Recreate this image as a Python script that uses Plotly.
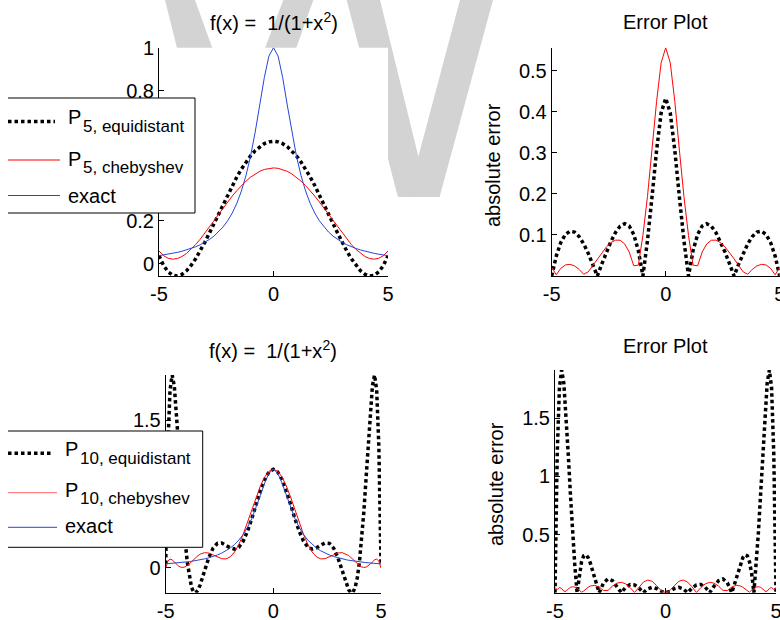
import plotly.graph_objects as go

W, H = 780, 620

# ---------------- data ----------------
x_top = [-5.0, -4.8, -4.6, -4.4, -4.2, -4.0, -3.8, -3.6, -3.4, -3.2, -3.0, -2.8, -2.6, -2.4, -2.2,
         -2.0, -1.8, -1.6, -1.4, -1.2, -1.0, -0.8, -0.6, -0.4, -0.2, 0.0,
         0.2, 0.4, 0.6, 0.8, 1.0, 1.2, 1.4, 1.6, 1.8, 2.0, 2.2, 2.4, 2.6, 2.8, 3.0,
         3.2, 3.4, 3.6, 3.8, 4.0, 4.2, 4.4, 4.6, 4.8, 5.0]

exact_top = [0.0385, 0.0416, 0.0451, 0.0491, 0.0536, 0.0588, 0.0648, 0.0716, 0.0796, 0.0890, 0.1000,
             0.1131, 0.1289, 0.1479, 0.1712, 0.2000, 0.2358, 0.2809, 0.3378, 0.4098, 0.5000, 0.6098,
             0.7353, 0.8621, 0.9615, 1.0000,
             0.9615, 0.8621, 0.7353, 0.6098, 0.5000, 0.4098, 0.3378, 0.2809, 0.2358, 0.2000, 0.1712,
             0.1479, 0.1289, 0.1131, 0.1000, 0.0890, 0.0796, 0.0716, 0.0648, 0.0588, 0.0536, 0.0491,
             0.0451, 0.0416, 0.0385]

p5_equi = [0.0385, -0.0069, -0.0366, -0.0522, -0.0555, -0.0481, -0.0314, -0.0069, 0.0240, 0.0600, 0.1000,
           0.1427, 0.1872, 0.2323, 0.2773, 0.3212, 0.3632, 0.4027, 0.4390, 0.4716, 0.5000, 0.5238,
           0.5426, 0.5563, 0.5645, 0.5673,
           0.5645, 0.5563, 0.5426, 0.5238, 0.5000, 0.4716, 0.4390, 0.4027, 0.3632, 0.3212, 0.2773,
           0.2323, 0.1872, 0.1427, 0.1000, 0.0600, 0.0240, -0.0069, -0.0314, -0.0481, -0.0555, -0.0522,
           -0.0366, -0.0069, 0.0385]

p5_cheb = [0.0599, 0.0386, 0.0264, 0.0222, 0.0252, 0.0342, 0.0485, 0.0673, 0.0895, 0.1146, 0.1418,
           0.1704, 0.1998, 0.2294, 0.2586, 0.2870, 0.3140, 0.3393, 0.3626, 0.3833, 0.4014, 0.4165,
           0.4285, 0.4371, 0.4423, 0.4441,
           0.4423, 0.4371, 0.4285, 0.4165, 0.4014, 0.3833, 0.3626, 0.3393, 0.3140, 0.2870, 0.2586,
           0.2294, 0.1998, 0.1704, 0.1418, 0.1146, 0.0895, 0.0673, 0.0485, 0.0342, 0.0252, 0.0222,
           0.0264, 0.0386, 0.0599]

err5_equi = [0.0, 0.0485, 0.0817, 0.1013, 0.1091, 0.1069, 0.0962, 0.0785, 0.0556, 0.0290, 0.0,
             0.0296, 0.0583, 0.0844, 0.1061, 0.1212, 0.1274, 0.1218, 0.1012, 0.0618, 0.0, 0.0860,
             0.1927, 0.3058, 0.3970, 0.4327,
             0.3970, 0.3058, 0.1927, 0.0860, 0.0, 0.0618, 0.1012, 0.1218, 0.1274, 0.1212, 0.1061,
             0.0844, 0.0583, 0.0296, 0.0, 0.0290, 0.0556, 0.0785, 0.0962, 0.1069, 0.1091, 0.1013,
             0.0817, 0.0485, 0.0]

err5_cheb = [0.0214, 0.0030, 0.0187, 0.0269, 0.0284, 0.0246, 0.0163, 0.0044, 0.0099, 0.0256, 0.0418,
             0.0573, 0.0709, 0.0815, 0.0874, 0.0870, 0.0782, 0.0584, 0.0248, 0.0265, 0.0986, 0.1933,
             0.3068, 0.4250, 0.5192, 0.5559,
             0.5192, 0.4250, 0.3068, 0.1933, 0.0986, 0.0265, 0.0248, 0.0584, 0.0782, 0.0870, 0.0874,
             0.0815, 0.0709, 0.0573, 0.0418, 0.0256, 0.0099, 0.0044, 0.0163, 0.0246, 0.0284, 0.0269,
             0.0187, 0.0030, 0.0214]

x_bot = [-5.0, -4.9, -4.8, -4.7, -4.6, -4.5, -4.4, -4.3, -4.2, -4.1, -4.0, -3.9, -3.8, -3.7, -3.6, -3.5,
         -3.4, -3.2, -3.0, -2.8, -2.6, -2.4, -2.2, -2.0, -1.8, -1.6, -1.4, -1.2, -1.0, -0.8, -0.6, -0.4,
         -0.2, 0.0,
         0.2, 0.4, 0.6, 0.8, 1.0, 1.2, 1.4, 1.6, 1.8, 2.0, 2.2, 2.4, 2.6, 2.8, 3.0, 3.2, 3.4,
         3.5, 3.6, 3.7, 3.8, 3.9, 4.0, 4.1, 4.2, 4.3, 4.4, 4.5, 4.6, 4.7, 4.8, 4.9, 5.0]

exact_bot = [0.0385, 0.0400, 0.0416, 0.0433, 0.0451, 0.0471, 0.0491, 0.0513, 0.0536, 0.0561, 0.0588,
             0.0617, 0.0648, 0.0681, 0.0716, 0.0755, 0.0796, 0.0890, 0.1000, 0.1131, 0.1289, 0.1479,
             0.1712, 0.2000, 0.2358, 0.2809, 0.3378, 0.4098, 0.5000, 0.6098, 0.7353, 0.8621, 0.9615,
             1.0000,
             0.9615, 0.8621, 0.7353, 0.6098, 0.5000, 0.4098, 0.3378, 0.2809, 0.2358, 0.2000, 0.1712,
             0.1479, 0.1289, 0.1131, 0.1000, 0.0890, 0.0796, 0.0755, 0.0716, 0.0681, 0.0648, 0.0617,
             0.0588, 0.0561, 0.0536, 0.0513, 0.0491, 0.0471, 0.0451, 0.0433, 0.0416, 0.0400, 0.0385]

p10_equi = [0.0385, 1.2303, 1.8044, 1.9589, 1.8458, 1.5788, 1.2402, 0.8881, 0.5604, 0.2802, 0.0588,
            -0.1007, -0.2013, -0.2496, -0.2546, -0.2262, -0.1744, -0.0363, 0.1000, 0.1987, 0.2472,
            0.2510, 0.2278, 0.2000, 0.1887, 0.2099, 0.2710, 0.3708, 0.5000, 0.6432, 0.7818, 0.8971,
            0.9733, 1.0000,
            0.9733, 0.8971, 0.7818, 0.6432, 0.5000, 0.3708, 0.2710, 0.2099, 0.1887, 0.2000, 0.2278,
            0.2510, 0.2472, 0.1987, 0.1000, -0.0363, -0.1744, -0.2262, -0.2546, -0.2496, -0.2013,
            -0.1007, 0.0588, 0.2802, 0.5604, 0.8881, 1.2402, 1.5788, 1.8458, 1.9589, 1.8044, 1.2303,
            0.0385]

p10_cheb = [-0.0053, 0.0664, 0.0871, 0.0791, 0.0583, 0.0352, 0.0162, 0.0049, 0.0023, 0.0082, 0.0213,
            0.0395, 0.0608, 0.0829, 0.1039, 0.1224, 0.1370, 0.1524, 0.1488, 0.1313, 0.1087, 0.0913,
            0.0892, 0.1105, 0.1595, 0.2372, 0.3399, 0.4611, 0.5911, 0.7187, 0.8327, 0.9227, 0.9802,
            1.0000,
            0.9802, 0.9227, 0.8327, 0.7187, 0.5911, 0.4611, 0.3399, 0.2372, 0.1595, 0.1105, 0.0892,
            0.0913, 0.1087, 0.1313, 0.1488, 0.1524, 0.1370, 0.1224, 0.1039, 0.0829, 0.0608, 0.0395,
            0.0213, 0.0082, 0.0023, 0.0049, 0.0162, 0.0352, 0.0583, 0.0791, 0.0871, 0.0664, -0.0053]

err10_equi = [0.0, 1.1903, 1.7628, 1.9156, 1.8007, 1.5317, 1.1911, 0.8368, 0.5068, 0.2241, 0.0,
              0.1624, 0.2661, 0.3177, 0.3262, 0.3017, 0.2540, 0.1253, 0.0, 0.0856, 0.1183, 0.1031,
              0.0566, 0.0, 0.0471, 0.0710, 0.0668, 0.0390, 0.0, 0.0334, 0.0465, 0.0350, 0.0118,
              0.0,
              0.0118, 0.0350, 0.0465, 0.0334, 0.0, 0.0390, 0.0668, 0.0710, 0.0471, 0.0, 0.0566,
              0.1031, 0.1183, 0.0856, 0.0, 0.1253, 0.2540, 0.3017, 0.3262, 0.3177, 0.2661, 0.1624,
              0.0, 0.2241, 0.5068, 0.8368, 1.1911, 1.5317, 1.8007, 1.9156, 1.7628, 1.1903, 0.0]

err10_cheb = [0.0438, 0.0264, 0.0455, 0.0358, 0.0132, 0.0119, 0.0329, 0.0464, 0.0513, 0.0479, 0.0375,
              0.0222, 0.0040, 0.0148, 0.0323, 0.0469, 0.0574, 0.0634, 0.0488, 0.0182, 0.0202, 0.0566,
              0.0820, 0.0895, 0.0763, 0.0437, 0.0021, 0.0513, 0.0911, 0.1089, 0.0974, 0.0606, 0.0187,
              0.0,
              0.0187, 0.0606, 0.0974, 0.1089, 0.0911, 0.0513, 0.0021, 0.0437, 0.0763, 0.0895, 0.0820,
              0.0566, 0.0202, 0.0182, 0.0488, 0.0634, 0.0574, 0.0469, 0.0323, 0.0148, 0.0040, 0.0222,
              0.0375, 0.0479, 0.0513, 0.0464, 0.0329, 0.0119, 0.0132, 0.0358, 0.0455, 0.0264, 0.0438]

x_tickvals = [-5, 0, 5]
x_ticktext = ["-5", "0", "5"]
y_ticks_tl = [0, 0.2, 0.4, 0.6, 0.8, 1]
y_ticks_tr = [0.1, 0.2, 0.3, 0.4, 0.5]
y_ticks_bl = [0, 0.5, 1, 1.5]
y_ticks_br = [0.5, 1, 1.5]

title_f = "f(x) =  1/(1+x<sup>2</sup>)"
title_err = "Error Plot"
ylabel_err = "absolute error"
legend_top = [("P", "5, equidistant"), ("P", "5, chebyshev"), ("exact", None)]
legend_bot = [("P", "10, equidistant"), ("P", "10, chebyshev"), ("exact", None)]

# ---------------- styling / layout ----------------
FONT = "Liberation Sans, Arial, Helvetica, sans-serif"
DOT = dict(color="black", width=3.5, dash="3.5px,3px")
RED = dict(color="#ff0000", width=1)
BLUE = dict(color="#2446d8", width=1)


def px(x):
    return x / W


def py(y):
    return 1 - y / H


# axes boxes in pixels: (left, right, top, bottom)
boxes = {
    "tl": (159, 388, 47.7, 276),
    "tr": (551.7, 779.7, 47.7, 276),
    "bl": (165.7, 381, 375, 592.7),
    "br": (555, 776, 370, 592.7),
}
names = ["tl", "tr", "bl", "br"]

fig = go.Figure()

series = [
    ("tl", x_top, p5_equi, DOT), ("tl", x_top, p5_cheb, RED), ("tl", x_top, exact_top, BLUE),
    ("tr", x_top, err5_equi, DOT), ("tr", x_top, err5_cheb, RED),
    ("bl", x_bot, p10_equi, DOT), ("bl", x_bot, p10_cheb, RED), ("bl", x_bot, exact_bot, BLUE),
    ("br", x_bot, err10_equi, DOT), ("br", x_bot, err10_cheb, RED),
]
for key, xs, ys, ln in series:
    i = names.index(key) + 1
    suffix = "" if i == 1 else str(i)
    fig.add_trace(go.Scatter(x=xs, y=ys, mode="lines", line=ln,
                             xaxis="x" + suffix, yaxis="y" + suffix,
                             showlegend=False, hoverinfo="skip"))

yranges = {"tl": [-0.0556, 1.0], "tr": [0.0, 0.5559], "bl": [-0.2546, 1.9589], "br": [0.0, 1.9156]}
yticks = {"tl": y_ticks_tl, "tr": y_ticks_tr, "bl": y_ticks_bl, "br": y_ticks_br}

axis_common = dict(showline=True, linecolor="black", linewidth=1, ticks="inside", ticklen=5,
                   tickcolor="black", tickwidth=1, showgrid=False, zeroline=False, automargin=False,
                   ticklabeloverflow="allow",
                   tickfont=dict(family=FONT, size=20, color="black"))

layout = dict(width=W, height=H, margin=dict(l=0, r=0, t=0, b=0, pad=0, autoexpand=False),
              paper_bgcolor="white", plot_bgcolor="white", showlegend=False,
              font=dict(family=FONT, size=20, color="black"))

for i, key in enumerate(names, start=1):
    l, r, t, b = boxes[key]
    suffix = "" if i == 1 else str(i)
    layout["xaxis" + suffix] = dict(domain=[px(l), px(r)], range=[-5, 5], tickvals=x_tickvals,
                                    ticktext=x_ticktext, anchor="y" + suffix, **axis_common)
    layout["yaxis" + suffix] = dict(domain=[py(b), py(t)], range=yranges[key],
                                    tickvals=yticks[key], anchor="x" + suffix, **axis_common)

fig.update_layout(**layout)

shapes = []
# watermark "W" strokes (pixel geometry), drawn below the axes backgrounds
WM = "#d3d3d3"
strokes = [
    [(160, -20), (187.8, -20), (265.9, 197), (214.3, 197)],
    [(290.9, -20), (320.4, -20), (243.4, 197), (208.4, 197)],
    [(341.5, -20), (375.1, -20), (428.3, 197), (397.9, 197)],
    [(465.3, -20), (498.4, -20), (439.6, 197), (407.6, 197)],
]
for pts in strokes:
    path = "M " + " L ".join(f"{px(a):.5f},{py(b):.5f}" for a, b in pts) + " Z"
    shapes.append(dict(type="path", path=path, xref="paper", yref="paper",
                       fillcolor=WM, line=dict(width=0), layer="below"))
# opaque white axes backgrounds on top of the watermark
for key in names:
    l, r, t, b = boxes[key]
    shapes.append(dict(type="rect", xref="paper", yref="paper", x0=px(l), x1=px(r),
                       y0=py(b), y1=py(t), fillcolor="white", line=dict(width=0), layer="below"))


def legend_box(x0, x1, y0, y1, samples):
    out = [dict(type="rect", xref="paper", yref="paper", x0=px(x0), x1=px(x1), y0=py(y1), y1=py(y0),
                fillcolor="white", line=dict(width=0), layer="above")]
    for (a, b, c, d) in [(x0, y0, x1, y0), (x1, y0, x1, y1), (x0, y1, x1, y1)]:
        out.append(dict(type="line", xref="paper", yref="paper", x0=px(a), y0=py(b), x1=px(c), y1=py(d),
                        line=dict(color="black", width=1), layer="above"))
    for (xa, xb, yy, ln) in samples:
        out.append(dict(type="line", xref="paper", yref="paper", x0=px(xa), x1=px(xb), y0=py(yy), y1=py(yy),
                        line=ln, layer="above"))
    return out


shapes += legend_box(8, 195, 98, 213, [(8, 55, 121.5, DOT), (8, 60, 160, RED), (8, 60, 195.5, BLUE)])
shapes += legend_box(8, 202.7, 431, 547.3, [(8, 53, 453.3, DOT), (8, 57, 492.7, dict(color="#ff0000", width=0.6)),
                                             (8, 57, 527.3, BLUE)])
fig.update_layout(shapes=shapes)

ann = []


def text(x, y, s, size=20, xanchor="center", yanchor="middle", angle=0):
    ann.append(dict(x=px(x), y=py(y), xref="paper", yref="paper", text=s, showarrow=False,
                    xanchor=xanchor, yanchor=yanchor, textangle=angle,
                    font=dict(family=FONT, size=size, color="black")))


# subplot titles
text(273.5, 21, title_f)
text(665.7, 22.5, title_err)
text(273.3, 349.5, title_f)
text(665.7, 345.5, title_err)
# y labels
text(493, 165, ylabel_err, angle=-90)
text(496, 484, ylabel_err, angle=-90)

# legends
top_rows = [(116.7, 126.6), (158.8, 167.2), (195.5, None)]
for (main, sub), (ym, ys) in zip(legend_top, top_rows):
    text(66, ym, main, xanchor="left")
    if sub:
        text(80.5, ys, sub, size=17, xanchor="left")
bot_rows = [(448.8, 458.9), (489.5, 498.9), (526.1, None)]
for (main, sub), (ym, ys) in zip(legend_bot, bot_rows):
    text(62.5, ym, main, xanchor="left")
    if sub:
        text(77.5, ys, sub, size=17, xanchor="left")

fig.update_layout(annotations=ann)

fig.write_html("out.html", config={"displayModeBar": False},
               post_script="document.body.style.margin='0';document.body.style.overflow='hidden';")
